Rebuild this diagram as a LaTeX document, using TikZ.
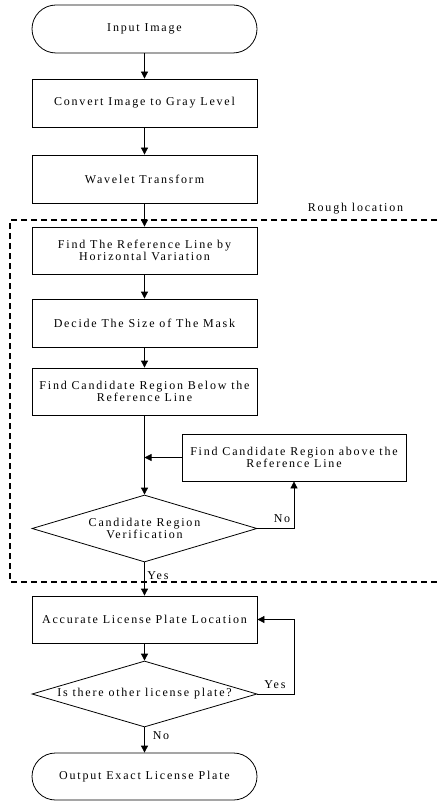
\documentclass[tikz,border=0pt]{standalone}
\usepackage{fontspec}
\setmainfont{Liberation Serif}[LetterSpace=15]
\usetikzlibrary{shapes.geometric,arrows.meta}
\begin{document}
\begin{tikzpicture}[x=1pt,y=-1pt,
  txt/.style={font=\fontsize{12}{12.5}\selectfont},
  box/.style={draw, line width=0.8pt, minimum width=225pt, minimum height=48pt, inner sep=0pt, align=center, txt},
  term/.style={box, rounded corners=24pt},
  dec/.style={draw, diamond, aspect=3.36, line width=0.8pt, minimum width=225pt, minimum height=67pt, inner sep=0pt, align=center, txt},
  arr/.style={-{Triangle[length=7pt,width=7pt]}, line width=0.8pt},
  lbl/.style={inner sep=0pt, txt},
  roughline/.style={line width=1.6pt, dash pattern=on 6pt off 4pt}]
\useasboundingbox (0,0) rectangle (437,802);
% dashed region
\coordinate (d1) at (437,220);
\coordinate (d2) at (10,220);
\coordinate (d3) at (10,582);
\coordinate (d4) at (437,582);
\draw[roughline] (d1) -- (d2) -- (d3) -- (d4);
\node[lbl] (rough) at (355.5,209) {Rough location};
% nodes
\node[term] (in) at (144.5,29) {Input Image};
\node[box] (conv) at (144.5,103) {Convert Image to Gray Level};
\node[box] (wav) at (144.5,179) {Wavelet Transform};
\node[box, minimum height=47pt] (ref) at (144.5,250.5) {Find The Reference Line by\\Horizontal Variation};
\node[box] (mask) at (144.5,323) {Decide The Size of The Mask};
\node[box, minimum height=47pt] (below) at (144.5,391.5) {Find Candidate Region Below the\\Reference Line};
\node[box, minimum width=224pt, minimum height=47pt] (above) at (294,457.5) {Find Candidate Region above the\\Reference Line};
\coordinate (join) at (144.5,457.5);
\node[dec] (ver) at (144.5,528.5) {Candidate Region\\Verification};
\node[box, minimum height=47pt] (acc) at (144.5,619.5) {Accurate License Plate Location};
\node[dec, minimum height=66pt] (other) at (144.5,694) {Is there other license plate?};
\node[term, minimum height=47pt, rounded corners=23.5pt] (out) at (144.5,776.5) {Output Exact License Plate};
% connectors
\draw[arr] (in) -- (conv);
\draw[arr] (conv) -- (wav);
\draw[arr] (wav) -- (ref);
\draw[arr] (ref) -- (mask);
\draw[arr] (mask) -- (below);
\draw[arr] (below) -- (ver);
\draw[arr] (above.west) -- (join);
\draw[arr] (ver.east) -| (above.south);
\node[lbl] (no1) at (282,519) {No};
\draw[arr] (ver) -- (acc);
\node[lbl] (yes1) at (158,576) {Yes};
\draw[arr] (acc) -- (other);
\draw[arr] (other.east) -- ++(37,0) |- (acc.east);
\node[lbl] (yes2) at (275,685) {Yes};
\draw[arr] (other) -- (out);
\node[lbl] (no2) at (161,736) {No};
\end{tikzpicture}
\end{document}
